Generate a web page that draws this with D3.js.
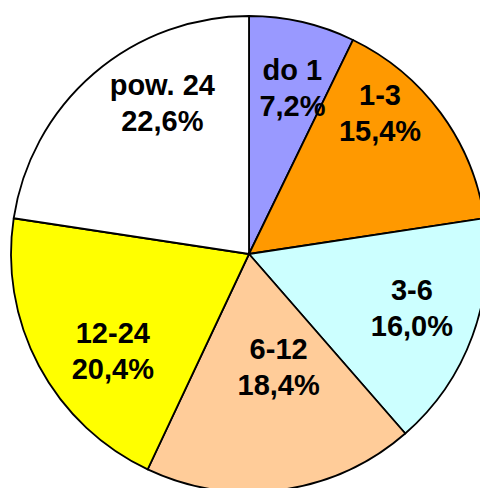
<!DOCTYPE html>
<html>
<head>
<meta charset="utf-8">
<script src="https://cdn.jsdelivr.net/npm/d3@7"></script>
<style>
  body { margin: 0; background: #fff; }
  svg { display: block; }
</style>
</head>
<body>
<div id="container"></div>
<script>
/* DATA */
const categories = ["do 1", "1-3", "3-6", "6-12", "12-24", "pow. 24"]
const shares = [7.2, 15.4, 16.0, 18.4, 20.4, 22.6]
const colors = ["#9999FF", "#FF9900", "#CCFFFF", "#FFCC99", "#FFFF00", "#FFFFFF"]

/* CONSTANTS */
const width = 480,
  height = 488,
  cx = 249,
  cy = 254,
  radius = 238

// label nudges from the centroid (excel-ish best fit placement)
const labelNudge = [[5, 1], [-7, -39], [2, -5], [6, -57], [15, 16], [25, -21]]

const data = categories.map((c, i) => ({ label: c, value: shares[i], color: colors[i] }))

const svg = d3.select("#container")
  .append("svg")
  .attr("width", width)
  .attr("height", height)

const g = svg.append("g")
  .attr("transform", `translate(${cx},${cy})`)

const pie = d3.pie()
  .sort(null)
  .value(d => d.value)

const arc = d3.arc()
  .innerRadius(0)
  .outerRadius(radius)

const labelArc = d3.arc()
  .innerRadius(radius * 0.72)
  .outerRadius(radius * 0.72)

const arcs = pie(data)

g.selectAll("path.slice")
  .data(arcs)
  .join("path")
  .attr("class", "slice")
  .attr("d", arc)
  .attr("fill", d => d.data.color)
  .attr("stroke", "#000")
  .attr("stroke-width", 1.8)
  .attr("stroke-linejoin", "round")

const fmt = v => v.toFixed(1).replace(".", ",") + "%"

const labels = g.selectAll("text.lbl")
  .data(arcs)
  .join("text")
  .attr("class", "lbl")
  .attr("text-anchor", "middle")
  .attr("font-family", "'Liberation Sans', Arial, sans-serif")
  .attr("font-weight", "bold")
  .attr("font-size", 29)
  .attr("fill", "#000")
  .attr("transform", (d, i) => {
    const [x, y] = labelArc.centroid(d)
    return `translate(${x + labelNudge[i][0]},${y + labelNudge[i][1]})`
  })

labels.append("tspan")
  .attr("x", 0)
  .attr("y", -8)
  .text(d => d.data.label)

labels.append("tspan")
  .attr("x", 0)
  .attr("y", 28)
  .text(d => fmt(d.data.value))
</script>
</body>
</html>
